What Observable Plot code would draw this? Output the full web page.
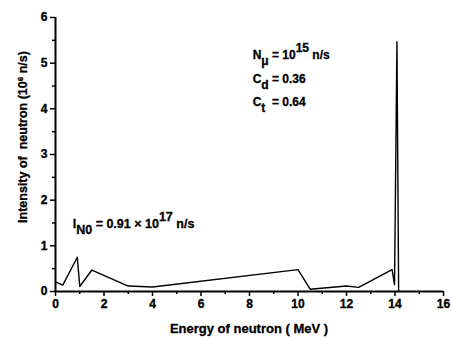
<!DOCTYPE html>
<html><head><meta charset="utf-8">
<script src="https://cdn.jsdelivr.net/npm/d3@7"></script>
<script src="https://cdn.jsdelivr.net/npm/@observablehq/plot@0.6"></script>
<style>body{margin:0;background:#fff}</style>
</head><body><div id="chart"></div>
<script>
// Energy of neutron (MeV)
const energy = [0, 0.3, 0.9, 1.0, 1.5, 3.0, 4.0, 10.0, 10.5, 12.0, 12.5, 13.88, 13.98, 14.08, 14.15];
// Intensity of neutron (10^6 n/s)
const intensity = [0.21, 0.14, 0.75, 0.11, 0.47, 0.12, 0.1, 0.48, 0.05, 0.12, 0.09, 0.48, 0.15, 5.47, 0.0];
const xMajorTicks = [0, 2, 4, 6, 8, 10, 12, 14, 16];
const xMinorTicks = [1, 3, 5, 7, 9, 11, 13, 15];
const yMajorTicks = [0, 1, 2, 3, 4, 5, 6];
const yMinorTicks = [0.5, 1.5, 2.5, 3.5, 4.5, 5.5];
const xTitle = "Energy of neutron ( MeV )";

const data = energy.map((e, i) => ({e, v: intensity[i]}));
const FONT = "'Liberation Sans', Arial, sans-serif";

const plot = Plot.plot({
  width: 451, height: 338,
  marginLeft: 55, marginRight: 8, marginTop: 17, marginBottom: 47,
  x: {domain: [0, 16]},
  y: {domain: [0, 6]},
  style: {fontFamily: FONT, fontSize: "12px", fontWeight: "bold", background: "#fff", color: "#000"},
  marks: [
    Plot.axisX({ticks: xMajorTicks, tickSize: 5, tickPadding: 3, strokeWidth: 1.5, label: null, fontSize: 12, fontFamily: FONT, tickFormat: d => String(d)}),
    Plot.axisX({ticks: xMinorTicks, tickSize: 3, strokeWidth: 1.5, label: null, tickFormat: () => ""}),
    Plot.axisY({ticks: yMajorTicks, tickSize: 5, tickPadding: 3, strokeWidth: 1.5, label: null, fontSize: 12, fontFamily: FONT, tickFormat: d => String(d)}),
    Plot.axisY({ticks: yMinorTicks, tickSize: 3, strokeWidth: 1.5, label: null, tickFormat: () => ""}),
    Plot.ruleX([0], {strokeWidth: 2}),
    Plot.ruleY([0], {strokeWidth: 2}),
    Plot.line(data, {x: "e", y: "v", stroke: "#000", strokeWidth: 1.4})
  ]
});
document.getElementById("chart").appendChild(plot);

const svg = d3.select(plot);
svg.selectAll("text").style("font-weight", "bold").style("stroke", "#000").style("stroke-width", "0.35px");

const sx = plot.scale("x"), sy = plot.scale("y");
const g = svg.append("g").attr("fill", "#000")
  .attr("font-family", FONT).attr("font-size", 12)
  .style("font-weight", "bold").style("white-space", "pre")
  .style("stroke", "#000").style("stroke-width", "0.3px");

// x axis title
g.append("text").attr("x", sx.apply(8)).attr("y", 333).attr("text-anchor", "middle").attr("font-size", 13).text(xTitle);
// y axis title
const yt = g.append("text").attr("text-anchor", "middle").attr("font-size", 12.5).attr("transform", "translate(27,137) rotate(-90)");
yt.append("tspan").text("Intensity of  neutron (10");
yt.append("tspan").attr("dy", -4).attr("font-size", 8).text("6");
yt.append("tspan").attr("dy", 4).text(" n/s)");

function rich(x, y, size, parts) {
  const t = g.append("text").attr("x", sx.apply(x)).attr("y", sy.apply(y)).attr("text-anchor", "start").attr("font-size", size);
  let shift = 0;
  for (const [s, kind] of parts) {
    const target = kind === "sub" ? 6 : kind === "sup" ? -7 : 0;
    t.append("tspan").attr("dy", target - shift).text(s);
    shift = target;
  }
  return t;
}
rich(0.73, 1.38, 12.5, [["I"], ["N0", "sub"], [" = 0.91 × 10"], ["17", "sup"], [" n/s"]]);
rich(8.15, 5.08, 12, [["N"], ["μ", "sub"], [" = 10"], ["15", "sup"], [" n/s"]]);
rich(8.15, 4.56, 12, [["C"], ["d", "sub"], [" = 0.36"]]);
rich(8.15, 4.05, 12, [["C"], ["t", "sub"], ["  = 0.64"]]);
</script></body></html>
